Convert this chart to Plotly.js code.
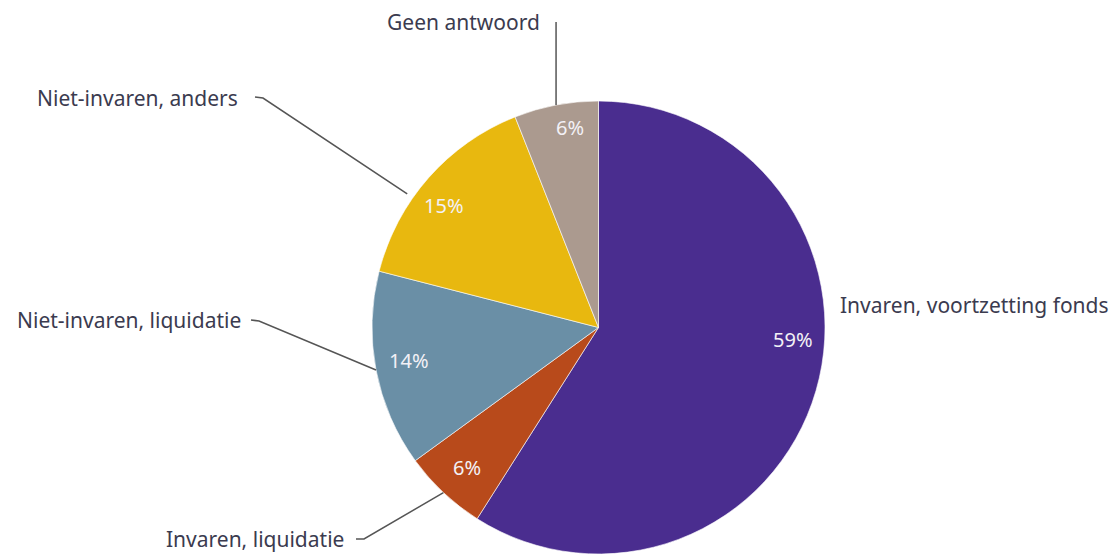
<!DOCTYPE html>
<html><head><meta charset="utf-8">
<script src="https://cdn.plot.ly/plotly-3.0.1.min.js"></script>
<style>html,body{margin:0;padding:0;background:#fff}#chart{width:1112px;height:554px}</style>
</head><body><div id="chart"></div>
<script>
// ---- data ----
const categories = ["Invaren, voortzetting fonds", "Invaren, liquidatie", "Niet-invaren, liquidatie", "Niet-invaren, anders", "Geen antwoord"];
const shares = [59, 6, 14, 15, 6];
const colors = ["#4a2d8f", "#b84a1b", "#6a8fa6", "#e8b80f", "#ab9a8f"];

// ---- layout options (label placement) ----
const W = 1112, H = 554;
const cx = 598.5, cy = 327.5, R = 226.5;
const pctFrac = [0.44, 0.5, 0.52, 0.44, 0.62];   // position of % label within slice
const pctRad = [0.86, 0.85, 0.85, 0.87, 0.89];
const lblPos = [ // text anchor positions (px), anchor, leader elbow
  {x: 838, y: 305, xa: "left", line: null},
  {x: 346, y: 539, xa: "right", line: [[356, 539], [364, 539]], frac: 0.5, r: 1.0},
  {x: 243, y: 320, xa: "right", line: [[251, 320], [259, 321]], frac: 0.5, r: 1.0},
  {x: 240, y: 98, xa: "right", line: [[255, 97], [263, 98]], frac: 0.38, r: 1.03},
  {x: 542, y: 22, xa: "right", line: "vertical", frac: 0.5, r: 1.0}
];

const total = shares.reduce((a, b) => a + b, 0);
const px = x => x / W, py = y => 1 - y / H;
function pt(angDeg, r) {
  const a = angDeg * Math.PI / 180;
  return [cx + r * R * Math.sin(a), cy - r * R * Math.cos(a)];
}

const annotations = [], shapes = [];
let start = 0;
shares.forEach((v, i) => {
  const span = v / total * 360;
  const pa = start + span * pctFrac[i];
  const p = pt(pa, pctRad[i]);
  annotations.push({xref: "paper", yref: "paper", x: px(p[0]), y: py(p[1]), text: Math.round(v / total * 100) + "%",
    showarrow: false, font: {family: "Noto Sans", size: 20, color: "#f3f1f6"}, xanchor: "center", yanchor: "middle"});
  const L = lblPos[i];
  annotations.push({xref: "paper", yref: "paper", x: px(L.x), y: py(L.y), text: categories[i], showarrow: false,
    font: {family: "Noto Sans", size: 21, color: "#3b3b4f"}, xanchor: L.xa, yanchor: "middle"});
  if (L.line) {
    const e = pt(start + span * L.frac, L.r);
    let pts;
    if (L.line === "vertical") pts = [[e[0], L.y], e];
    else pts = [L.line[0], L.line[1], e];
    const path = pts.map((q, k) => (k ? "L" : "M") + px(q[0]).toFixed(5) + "," + py(q[1]).toFixed(5)).join(" ");
    shapes.push({type: "path", xref: "paper", yref: "paper", path: path, line: {color: "#555", width: 1.5}});
  }
  start += span;
});

const trace = {
  type: "pie", values: shares, labels: categories, sort: false, direction: "clockwise", rotation: 0,
  marker: {colors: colors, line: {color: "#ffffff", width: 0.6}},
  textinfo: "none", hoverinfo: "label+percent",
  domain: {x: [(cx - R) / W, (cx + R) / W], y: [1 - (cy + R) / H, 1 - (cy - R) / H]}
};
Plotly.newPlot("chart", [trace], {
  width: W, height: H, margin: {l: 0, r: 0, t: 0, b: 0}, showlegend: false,
  paper_bgcolor: "#fff", annotations: annotations, shapes: shapes
}, {displayModeBar: false, staticPlot: true});
</script></body></html>
